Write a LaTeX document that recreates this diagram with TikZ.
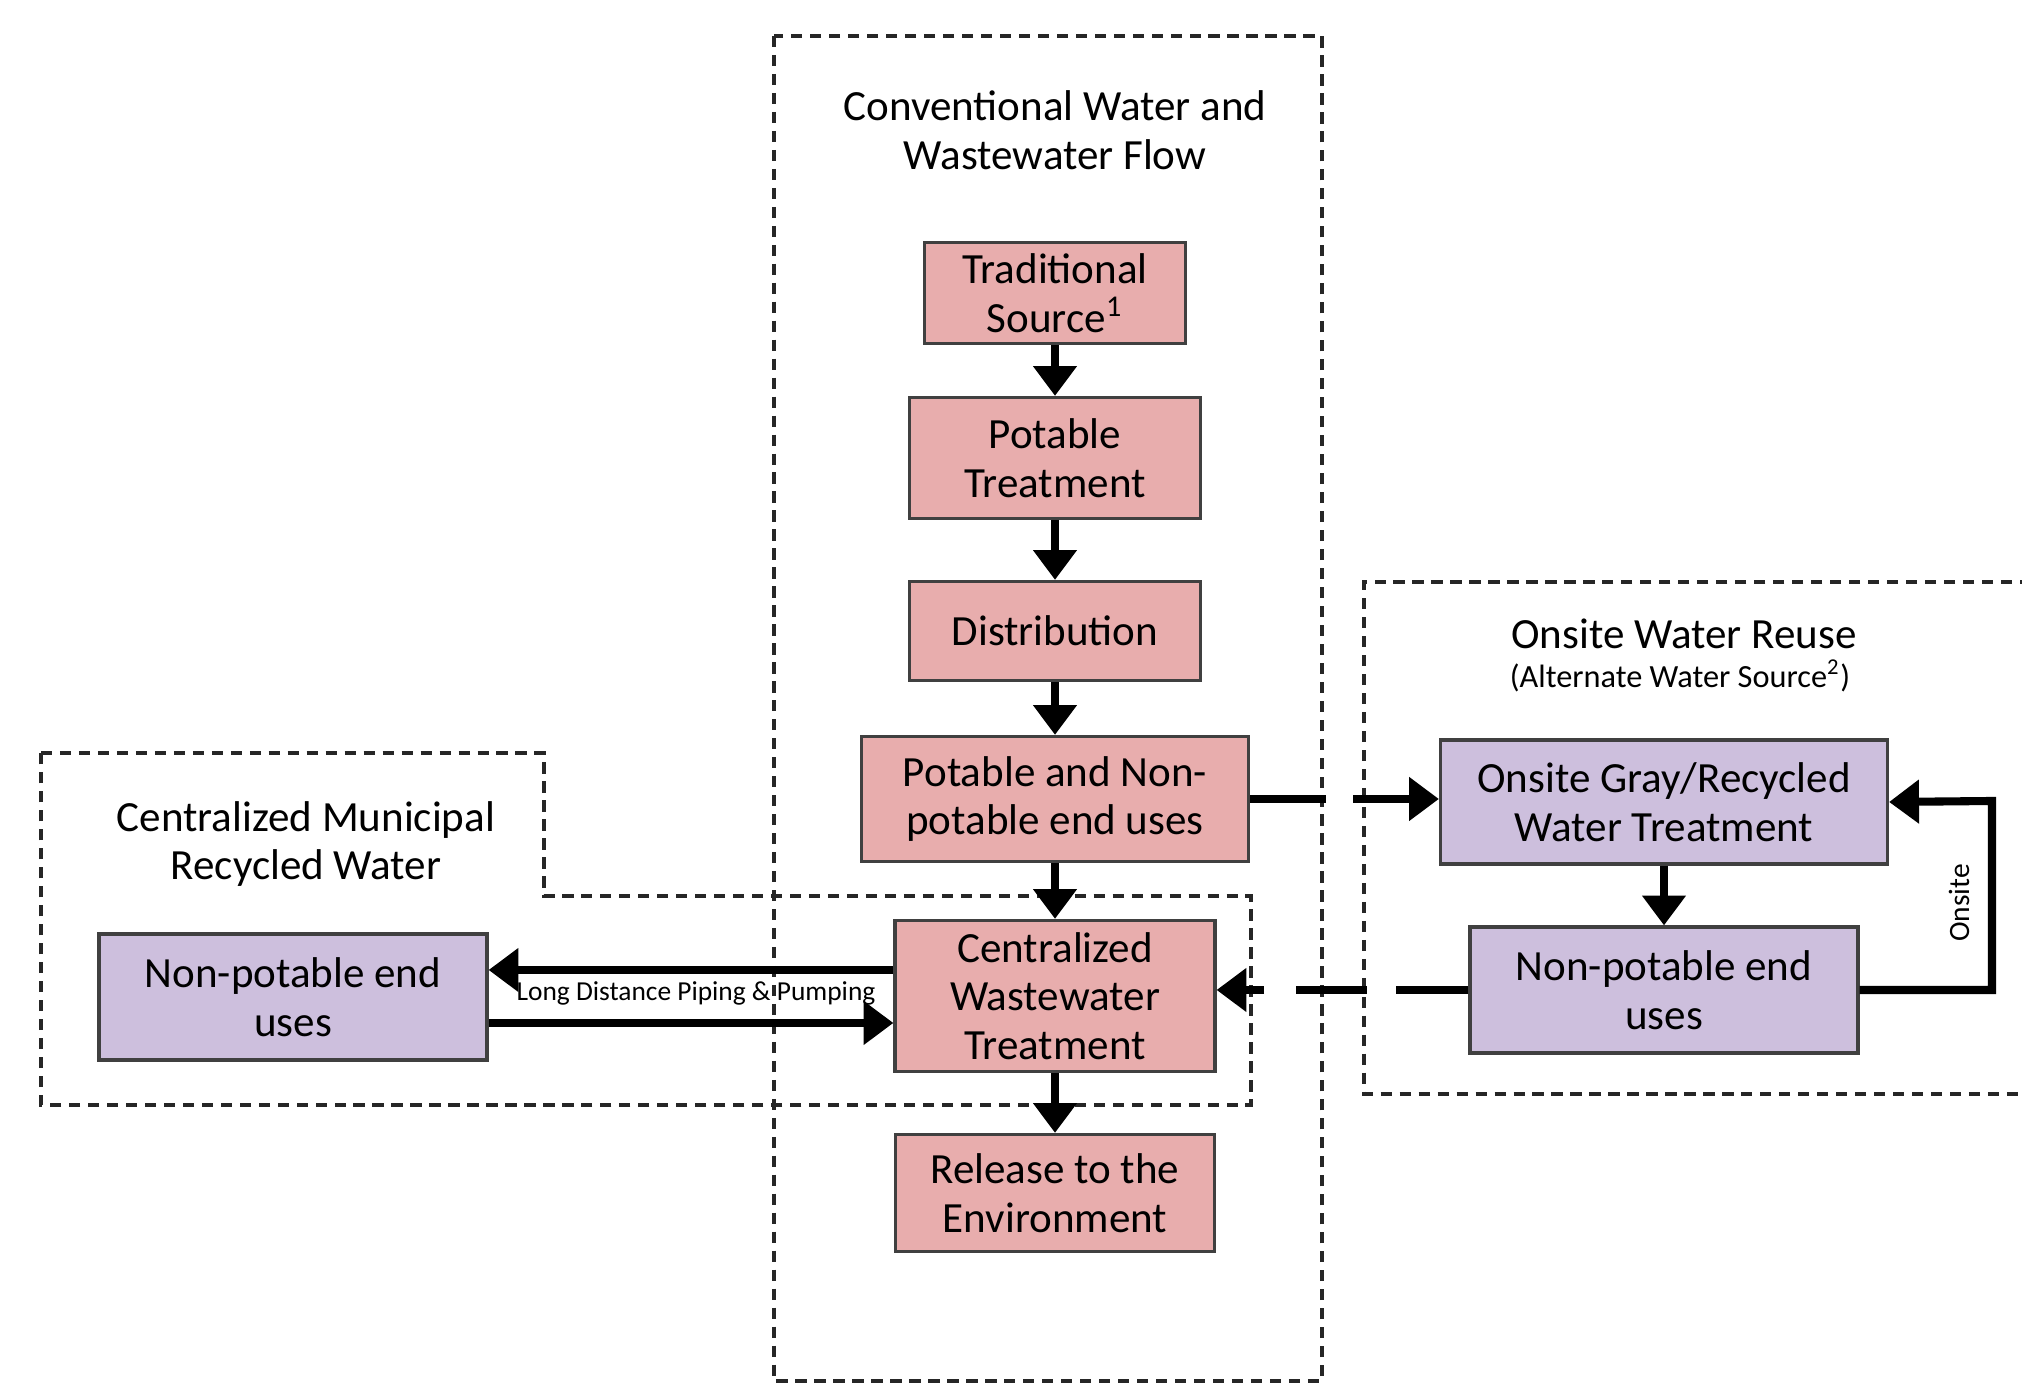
\documentclass[tikz,border=0pt]{standalone}
\usepackage{fontspec}
\setmainfont{Carlito}
\usepackage{xcolor}
\usetikzlibrary{positioning, arrows.meta}

\definecolor{boxpink}{RGB}{232,173,173}
\definecolor{boxpurple}{RGB}{205,191,221}

\begin{document}
\begin{tikzpicture}[
            box/.style={draw=black!75, line width=0.9pt, align=center, inner xsep=2pt, inner ysep=1pt,
                font=\fontsize{12.25}{13.8}\selectfont},
            pinkbox/.style={box, fill=boxpink},
            purplebox/.style={box, fill=boxpurple},
            region/.style={draw=black!85, line width=1pt, dash pattern=on 3.2pt off 2.2pt},
            flow/.style={draw=black, line width=2.3pt, -{Triangle[width=12pt,length=8.5pt]}},
            heading/.style={align=center, font=\fontsize{12.25}{13.8}\selectfont},
        ]
            \clip (0,0) rectangle (20.22,-13.84);
            % dashed regions
            \draw[region] (7.74,-0.36) rectangle (13.22,-13.81);
            \draw[region] (0.41,-7.53) -- (5.44,-7.53) -- (5.44,-8.96) -- (12.51,-8.96)
                -- (12.51,-11.05) -- (0.41,-11.05) -- cycle;
            \draw[region] (20.5,-5.82) -- (13.64,-5.82) -- (13.64,-10.94) -- (20.5,-10.94);

            \node[heading] (convtitle) at (10.55,-1.30) {Conventional Water and\\Wastewater Flow};
            \node[heading] (munititle) at (3.06,-8.44) {Centralized Municipal\\Recycled Water};
            \node[heading] (onsitetitle) at (16.84,-6.34) {Onsite Water Reuse};
            \node[font=\fontsize{9.2}{11}\selectfont] (onsitesub) at (16.80,-6.76) {(Alternate Water Source\textsuperscript{2})};

            % conventional flow
            \node[pinkbox, minimum width=2.61cm, minimum height=1.01cm] (src) at (10.55,-2.93) {Traditional\\Source\textsuperscript{1}};
            \node[pinkbox, minimum width=2.91cm, minimum height=1.21cm] (ptreat) at (10.55,-4.58) {Potable\\Treatment};
            \node[pinkbox, minimum width=2.91cm, minimum height=0.99cm] (dist) at (10.55,-6.31) {Distribution};
            \node[pinkbox, minimum width=3.87cm, minimum height=1.25cm] (enduse) at (10.55,-7.99) {Potable and Non-\\potable end uses};
            \node[pinkbox, minimum width=3.20cm, minimum height=1.51cm] (cwt) at (10.55,-9.96) {Centralized\\Wastewater\\Treatment};
            \node[pinkbox, minimum width=3.19cm, minimum height=1.17cm] (release) at (10.55,-11.93) {Release to the\\Environment};

            % recycled and onsite
            \node[purplebox, minimum width=3.88cm, minimum height=1.26cm] (muniuse) at (2.93,-9.97) {Non-potable end\\uses};
            \node[purplebox, minimum width=4.47cm, minimum height=1.24cm] (onsitetreat) at (16.64,-8.02) {Onsite Gray/Recycled\\Water Treatment};
            \node[purplebox, minimum width=3.88cm, minimum height=1.26cm] (onsiteuse) at (16.64,-9.90) {Non-potable end\\uses};

            \foreach \a/\b in {src/ptreat, ptreat/dist, dist/enduse, enduse/cwt, cwt/release, onsitetreat/onsiteuse}
                \draw[flow] (\a) -- (\b);

            \draw[flow] ([yshift=0.26cm]cwt.west) -- ([yshift=0.26cm]cwt.west -| muniuse.east);
            \draw[flow] ([yshift=-0.27cm]cwt.west -| muniuse.east) -- ([yshift=-0.27cm]cwt.west);
            \node[font=\fontsize{7.8}{9}\selectfont] (pipelabel) at (6.96,-9.93) {Long Distance Piping \& Pumping};

            \draw[flow, dash pattern=on 21.6pt off 7.7pt on 200pt off 1pt] (enduse.east) -- (enduse.east -| onsitetreat.west);
            \draw[flow, dash pattern=on 20.7pt off 8.2pt on 20.1pt off 9.1pt on 200pt off 1pt] (onsiteuse.west) -- (onsiteuse.west -| cwt.east);

            \coordinate (loopright) at (19.92,-8.01);
            \draw[flow] (onsiteuse.east) -| (loopright) -- (onsitetreat.east);
            \node[rotate=90, font=\fontsize{8.4}{10}\selectfont] (onsitelabel) at (19.59,-9.03) {Onsite};
        \end{tikzpicture}
\end{document}
